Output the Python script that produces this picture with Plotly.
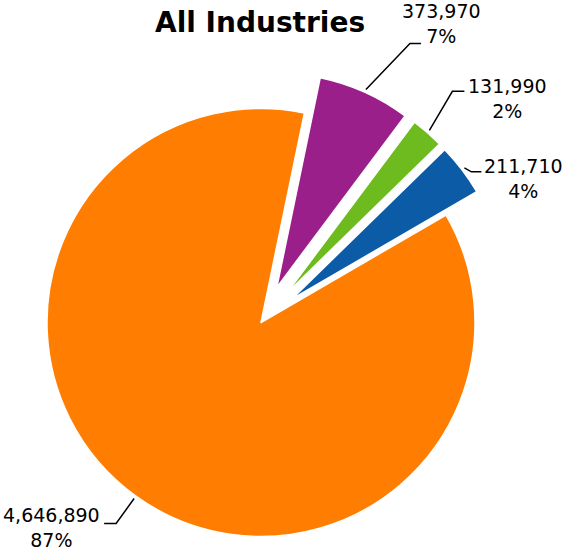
import numpy as np
import plotly.graph_objects as go

# ---- data ----
categories = ["Segment A", "Segment B", "Segment C", "Segment D"]
values = [373970, 131990, 211710, 4646890]
colors = ["#9B1F8A", "#6DBB1F", "#0B5BA6", "#FF7D00"]
pulls = [0.18, 0.18, 0.18, 0.0]
title_text = "All Industries"

# ---- layout constants (pixels) ----
W, H = 565, 553
CX, CY, R = 261.0, 322.5, 214.0
ROTATION = 11.7
FONT = "DejaVu Sans"
# leader line elbow offsets (from line start), horizontal tail length, label offset from tail end
elbow_off = [(44, -46), (23, -39), (7, 4), (-18, 25)]
tail_len = [11, 12, 10, -12]
label_off = [(21, -20), (43, 7), (42, 7), (-53, 4)]

vals = np.array(values, dtype=float)
frac = vals / vals.sum()
starts = ROTATION + 360 * np.concatenate([[0], np.cumsum(frac)[:-1]])
mids = np.radians(starts + frac * 180)

fig = go.Figure()

# slices: one pie trace per slice so each pulled slice keeps full radius
for i in range(len(values)):
    shift = pulls[i] * R
    ccx = CX + shift * np.sin(mids[i])
    ccy = CY - shift * np.cos(mids[i])
    mcolors = [colors[j] if j == i else "rgba(0,0,0,0)" for j in range(len(values))]
    lcolors = ["white" if j == i else "rgba(0,0,0,0)" for j in range(len(values))]
    lwidths = [1.5 if j == i else 0 for j in range(len(values))]
    fig.add_trace(go.Pie(
        labels=categories, values=values, sort=False, direction="clockwise",
        rotation=ROTATION, textinfo="none", hoverinfo="skip", showlegend=False,
        marker=dict(colors=mcolors, line=dict(color=lcolors, width=lwidths)),
        domain=dict(x=[(ccx - R) / W, (ccx + R) / W],
                    y=[1 - (ccy + R) / H, 1 - (ccy - R) / H]),
    ))

# leader lines and labels
annotations = []
for i in range(len(values)):
    d = R * (1 + pulls[i]) + 3
    sx = CX + d * np.sin(mids[i])
    sy = CY - d * np.cos(mids[i])
    ex, ey = sx + elbow_off[i][0], sy + elbow_off[i][1]
    tx, ty = ex + tail_len[i], ey
    fig.add_trace(go.Scatter(
        x=[sx, ex, tx], y=[sy, ey, ty], mode="lines",
        line=dict(color="black", width=1.5), hoverinfo="skip", showlegend=False,
        xaxis="x", yaxis="y",
    ))
    pct = int(round(frac[i] * 100))
    annotations.append(dict(
        x=tx + label_off[i][0], y=ty + label_off[i][1], xref="x", yref="y",
        text=f"{values[i]:,}<br>{pct}%", showarrow=False, align="center",
        xanchor="center", yanchor="middle",
        font=dict(family=FONT, size=19, color="black"),
    ))

annotations.append(dict(
    x=260, y=22, xref="x", yref="y", text=f"<b>{title_text}</b>", showarrow=False,
    xanchor="center", yanchor="middle",
    font=dict(family=FONT, size=28, color="black"),
))

fig.update_layout(
    width=W, height=H, margin=dict(l=0, r=0, t=0, b=0),
    paper_bgcolor="white", plot_bgcolor="rgba(0,0,0,0)",
    xaxis=dict(range=[0, W], visible=False, fixedrange=True, domain=[0, 1]),
    yaxis=dict(range=[H, 0], visible=False, fixedrange=True, domain=[0, 1]),
    annotations=annotations,
    font=dict(family=FONT),
)

fig.write_html("out.html")
